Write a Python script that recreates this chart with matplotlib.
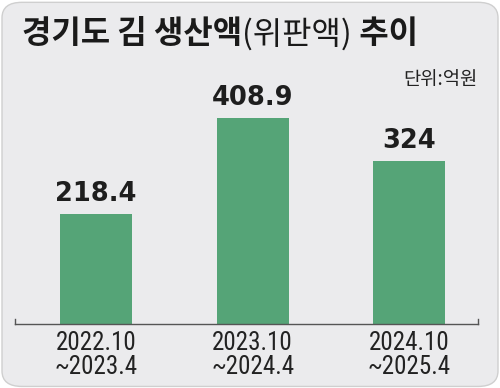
import matplotlib.pyplot as plt
from matplotlib import font_manager
from matplotlib.patches import FancyBboxPatch

plt.rcParams['font.family'] = ['Noto Sans CJK KR', 'DejaVu Sans']

periods = ['2022.10\n~2023.4', '2023.10\n~2024.4', '2024.10\n~2025.4']
values = [218.4, 408.9, 324]
value_labels = ['218.4', '408.9', '324']

bg = '#ebebed'
green = '#55a477'

installed = {f.name for f in font_manager.fontManager.ttflist}
narrow = next((n for n in ['Liberation Sans Narrow', 'Roboto Condensed', 'Liberation Sans']
               if n in installed), 'DejaVu Sans')

fig = plt.figure(figsize=(5, 3.88), dpi=100)
fig.patch.set_facecolor('white')
# rounded card behind everything
card = FancyBboxPatch((0.004, 0.004), 0.992, 0.99, boxstyle='round,pad=0,rounding_size=0.04',
                      transform=fig.transFigure, facecolor=bg, edgecolor='#cfcfcf',
                      linewidth=1, zorder=-10)
fig.patches.append(card)

ax = fig.add_axes([15/500, 64/388, 463/500, 264/388])
ax.set_facecolor('none')
x = range(len(values))
ax.bar(x, values, width=0.46, color=green, zorder=2)
for xi, v, lab in zip(x, values, value_labels):
    ax.text(xi, v + 14, lab, ha='center', va='bottom', fontsize=18.5, fontweight='heavy',
            family='DejaVu Sans', color='#1e1e1e')

ax.set_xlim(-0.518, 2.44)
ax.set_ylim(0, 524)
for s in ['top', 'right', 'left']:
    ax.spines[s].set_visible(False)
ax.spines['bottom'].set_color('#555555')
ax.spines['bottom'].set_linewidth(1)
ax.set_yticks([])
ax.set_xticks(list(x))
ax.set_xticklabels(periods, fontsize=18, family=narrow, color='#222222', linespacing=1.0)
ax.tick_params(axis='x', length=0, pad=5)
# small end caps on the baseline
for xe in (0, 1):
    ax.plot([xe, xe], [0, 0.02], transform=ax.transAxes, color='#555555', lw=1, clip_on=False)

# title pieces placed one after another
renderer = fig.canvas.get_renderer()
xpos = 22
for piece, weight in [('경기도 김 생산액', 'bold'), ('(위판액)', 'normal'), (' 추이', 'bold')]:
    t = fig.text(xpos/500, 1 - 34/388, piece, fontsize=23, fontweight=weight,
                 va='center', color='#1a1a1a')
    xpos += t.get_window_extent(renderer).width
fig.text(478/500, 1 - 80/388, '단위:억원', fontsize=13.5, ha='right', va='center', color='#222222')

fig.savefig('out.png', dpi=100, facecolor=fig.get_facecolor())
